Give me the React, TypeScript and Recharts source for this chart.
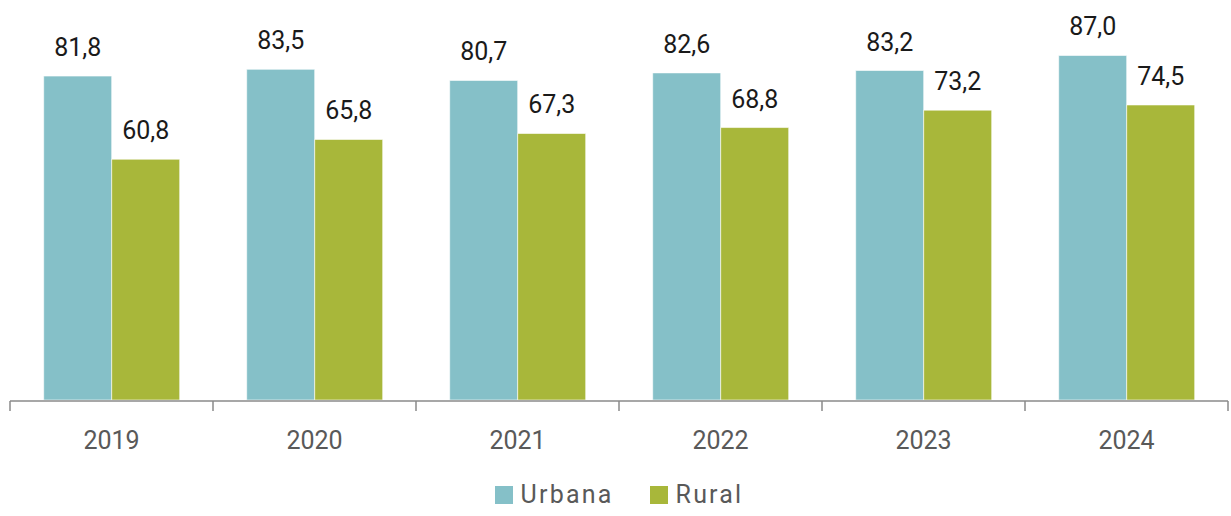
import { BarChart, Bar, XAxis, YAxis, Legend, LabelList } from "recharts";

const years = ["2019", "2020", "2021", "2022", "2023", "2024"];
const urbana = [81.8, 83.5, 80.7, 82.6, 83.2, 87.0];
const rural = [60.8, 65.8, 67.3, 68.8, 73.2, 74.5];
const boundaryTicks = [0, 1, 2, 3, 4, 5, 6];

const series = [
  { key: "urbana", name: "Urbana", color: "#85c0c8" },
  { key: "rural", name: "Rural", color: "#a8b73a" },
];

// "slot" is the category index centre, used only by the boundary-tick axis
const data = years.map((year, i) => ({ year, slot: i + 0.5, urbana: urbana[i], rural: rural[i] }));

const font = "Roboto, 'Noto Sans', sans-serif";
const fmt = (v: number) => v.toFixed(1).replace(".", ",");

function LegendBox() {
  return (
    <div style={{ display: "flex", justifyContent: "center", alignItems: "center", gap: 36, fontFamily: font, fontSize: 25, color: "#595959", letterSpacing: 2.2 }}>
      {series.map((s) => (
        <div key={s.key} style={{ display: "flex", alignItems: "center", gap: 8 }}>
          <span style={{ width: 18, height: 18, background: s.color, display: "inline-block" }} />
          <span>{s.name}</span>
        </div>
      ))}
    </div>
  );
}

export default function App() {
  return (
    <div style={{ position: "absolute", left: 0, top: 0, width: 1231, height: 516, background: "#fff" }}>
      <BarChart
        width={1231}
        height={516}
        data={data}
        margin={{ top: 4, right: 3, bottom: 0, left: 10 }}
        barCategoryGap="16.6%"
        barGap={0}
      >
        <XAxis
          dataKey="year"
          height={1}
          axisLine={false}
          tickLine={false}
          tickSize={0}
          tickMargin={31}
          tick={{ fontFamily: font, fontSize: 25, fill: "#595959" }}
        />
        <XAxis
          xAxisId="edges"
          dataKey="slot"
          type="number"
          scale="linear"
          domain={[0, 6]}
          ticks={boundaryTicks}
          allowDataOverflow
          interval={0}
          height={79}
          tickSize={10}
          tick={() => <g />}
          stroke="#8a8a8a"
          axisLine={{ stroke: "#8a8a8a", strokeWidth: 1.5 }}
          tickLine={{ stroke: "#8a8a8a", strokeWidth: 1.5 }}
        />
        <YAxis hide domain={[0, 100]} />
        <Legend verticalAlign="bottom" height={36} content={() => <LegendBox />} />
        {series.map((s) => (
          <Bar key={s.key} dataKey={s.key} name={s.name} fill={s.color} stroke="#ffffff" strokeWidth={0.6} isAnimationActive={false}>
            <LabelList
              dataKey={s.key}
              position="top"
              offset={20}
              formatter={fmt as never}
              style={{ fontFamily: font, fontSize: 25, fill: "#1a1a1a" }}
            />
          </Bar>
        ))}
      </BarChart>
    </div>
  );
}
